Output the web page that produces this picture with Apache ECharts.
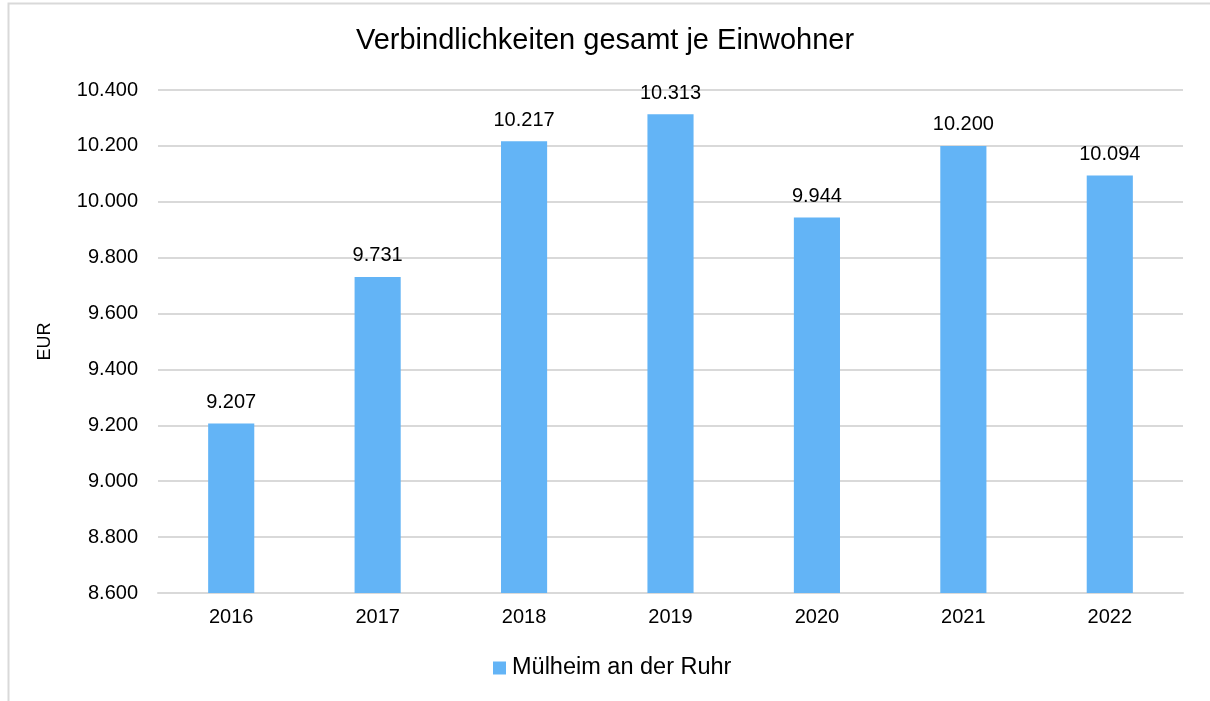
<!DOCTYPE html>
<html>
<head>
<meta charset="utf-8">
<script src="https://cdn.jsdelivr.net/npm/echarts@6/dist/echarts.min.js"></script>
<style>
  html, body { margin: 0; padding: 0; background: #fff; }
  #main { width: 1210px; height: 701px; }
</style>
</head>
<body>
<div id="main"></div>
<script>
// Jahre
let years = ['2016', '2017', '2018', '2019', '2020', '2021', '2022']
// Verbindlichkeiten je Einwohner (EUR)
let values = [9207, 9731, 10217, 10313, 9944, 10200, 10094]
let seriesName = 'Mülheim an der Ruhr'
let titleText = 'Verbindlichkeiten gesamt je Einwohner'

// Tausenderpunkt
function fmt(v){
    let s = String(Math.round(v))
    return s.replace(/\B(?=(\d{3})+(?!\d))/g, '.')
}

let myChart = echarts.init(document.getElementById('main'))
let font = 'Liberation Sans, Arial, Helvetica, sans-serif'
let option = {
    backgroundColor: '#fff',
    textStyle: { fontFamily: font },
    title: {
        text: titleText,
        left: 'center',
        top: 21,
        textStyle: { fontFamily: font, fontSize: 29, fontWeight: 'normal', color: '#000' }
    },
    graphic: [{
        type: 'rect',
        shape: { x: 8.5, y: 3.5, width: 1220, height: 720 },
        style: { fill: 'none', stroke: '#d9d9d9', lineWidth: 2 },
        silent: true
    }],
    legend: {
        top: 651,
        left: 488,
        padding: 5,
        icon: 'rect',
        itemWidth: 13,
        itemHeight: 13,
        itemGap: 5,
        textStyle: { fontFamily: font, fontSize: 23.5, color: '#000', padding: [0, 0, 0, 1] },
        data: [seriesName]
    },
    grid: { left: 158, right: 27, top: 90, bottom: 108 },
    xAxis: {
        type: 'category',
        data: years,
        axisLine: { lineStyle: { color: '#d9d9d9', width: 2 } },
        axisTick: { show: false },
        axisLabel: { fontFamily: font, fontSize: 20, color: '#000', margin: 14 }
    },
    yAxis: {
        type: 'value',
        min: 8600,
        max: 10400,
        interval: 200,
        name: 'EUR',
        nameLocation: 'middle',
        nameGap: 104,
        nameRotate: 90,
        nameTextStyle: { fontFamily: font, fontSize: 18, color: '#000' },
        axisLine: { show: false },
        axisTick: { show: false },
        splitLine: { lineStyle: { color: '#d9d9d9', width: 2 } },
        axisLabel: { fontFamily: font, fontSize: 20, color: '#000', margin: 20, formatter: fmt }
    },
    series: [{
        name: seriesName,
        type: 'bar',
        data: values,
        barWidth: '31.5%',
        itemStyle: { color: '#63b4f6' },
        label: {
            show: true,
            position: 'top',
            distance: 11,
            fontFamily: font,
            fontSize: 20,
            color: '#000',
            formatter: p => fmt(p.value)
        }
    }]
}
myChart.setOption(option)
</script>
</body>
</html>
